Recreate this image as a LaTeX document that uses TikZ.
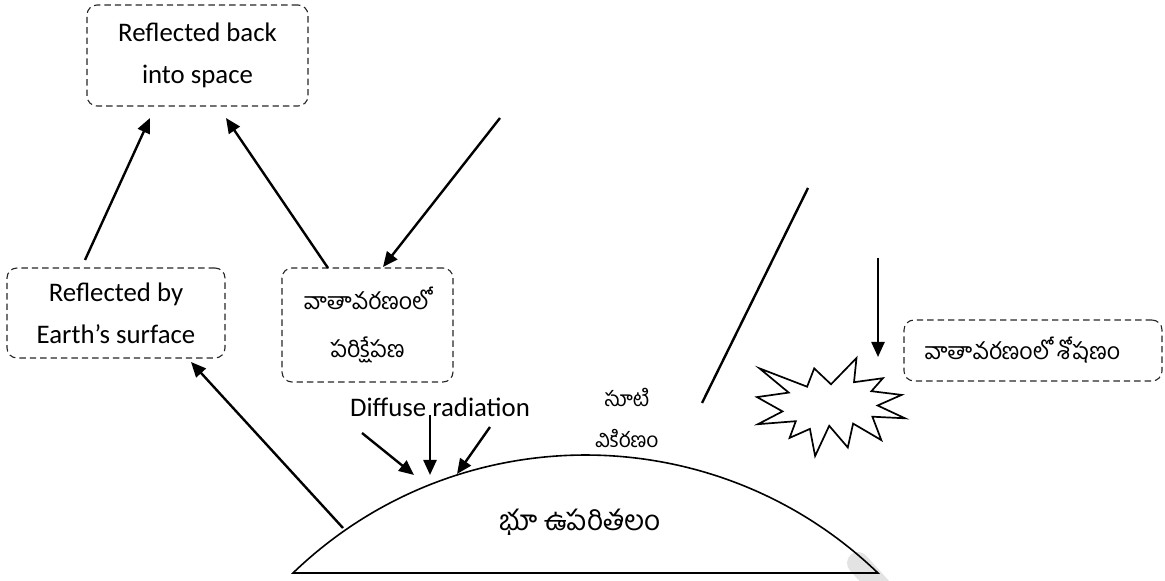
\documentclass[tikz,border=0pt]{standalone}
\usepackage{fontspec}
\setmainfont{Carlito}
\newfontfamily\te[Script=Telugu]{Hind Guntur}
\usetikzlibrary{arrows.meta}
\begin{document}
\begin{tikzpicture}[x=0.5pt,y=-0.5pt,
  box/.style={draw=black!85, line width=0.55pt, dash pattern=on 3.2pt off 2pt,
    rounded corners=5pt, inner sep=0pt, align=center},
  arr/.style={line width=1.2pt, -{Triangle[length=7.5pt,width=6.5pt]}},
  ln/.style={line width=1.2pt},
  lat/.style={font=\fontsize{13.4}{21}\selectfont},
  tel/.style={font=\te\fontsize{11.6}{24}\selectfont}]
\useasboundingbox (0,0) rectangle (1165,581);
% watermark fragment
\draw[gray!22, line width=11pt, line cap=round] (858,563) -- (905,615);
% boxes
\node[box, lat, minimum width=110.5pt, minimum height=50.5pt] (b1) at (197.5,55.5) {Reflected back\\into space};
\node[box, lat, minimum width=109pt, minimum height=45pt] (b2) at (116,313) {Reflected by\\Earth’s surface};
\node[box, tel, minimum width=85.5pt, minimum height=57pt] (b3) at (367.5,325) {వాతావరణంలో\\పరిక్షేపణ};
\node[box, tel, minimum width=129pt, minimum height=30.5pt] (b4) at (1033,350.5) {వాతావరణంలో శోషణం\hspace*{10.5pt}};
% dome
\draw[line width=0.8pt] (293,573) coordinate (dl) arc[start angle=133.94, end angle=46.06, radius=210.75pt] coordinate (dr) -- cycle;
\node[font=\te\fontsize{14}{18}\selectfont] (earth) at (580,522) {భూ ఉపరితలం};
\node[align=center, inner sep=0pt, font=\te\fontsize{10.5}{20.5}\selectfont] (direct) at (627,418) {సూటి\\వికిరణం};
\node[lat, inner sep=0pt] (diff) at (440,407) {Diffuse radiation};
% star (absorption)
\draw[line width=0.85pt, line join=miter] (831.0,384.3) -- (856.5,358) -- (854.0,382.2) -- (882.9,378.2) -- (871.4,391.2)
  -- (901.6,394.9) -- (877.6,405.5) -- (905,418.3) -- (872.4,416.7) -- (881.3,440.1) -- (853.1,423.6)
  -- (847.8,447.5) -- (829.2,425.8) -- (815.1,456) -- (809.9,428.9) -- (789.6,437.9) -- (795.8,421.2)
  -- (757.9,424.2) -- (782.5,411.4) -- (757,397.1) -- (788.7,392.6) -- (759.5,368.4) -- (807.1,386.7)
  -- (814.2,368.4) -- cycle;
\coordinate (star) at (831,405);
% connector ends
\coordinate (a1s) at (85,260);   \coordinate (a1e) at (150,118);
\coordinate (a2s) at (328,268);  \coordinate (a2e) at (226,118);
\coordinate (a3s) at (500,118);  \coordinate (a3e) at (383,267);
\coordinate (a4s) at (343,528);  \coordinate (a4e) at (191,362);
\coordinate (d1s) at (362,433);  \coordinate (d1e) at (414,475);
\coordinate (d2s) at (430,415);  \coordinate (d2e) at (430,475);
\coordinate (d3s) at (490,427);  \coordinate (d3e) at (457,474);
\coordinate (ss) at (808,188);   \coordinate (se) at (702,403);
\coordinate (vs) at (878,258);   \coordinate (ve) at (878,357);
\draw[arr] (a1s) -- (a1e);
\draw[arr] (a2s) -- (a2e);
\draw[arr] (a3s) -- (a3e);
\draw[arr] (a4s) -- (a4e);
\draw[arr] (d1s) -- (d1e);
\draw[arr] (d2s) -- (d2e);
\draw[arr] (d3s) -- (d3e);
\draw[ln] (ss) -- (se);
\draw[arr] (vs) -- (ve);
\end{tikzpicture}
\end{document}
